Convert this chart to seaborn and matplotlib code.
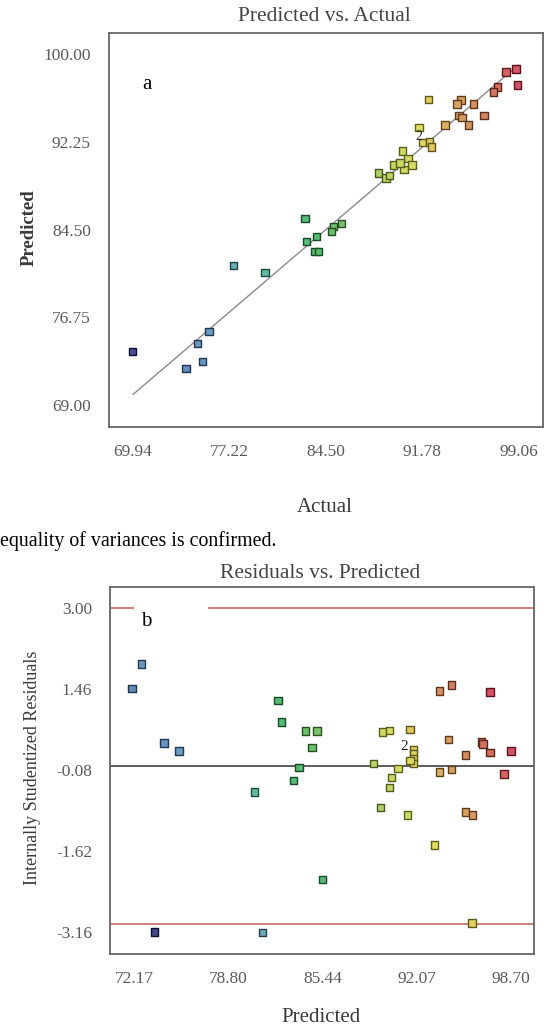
import numpy as np
import pandas as pd
import matplotlib
matplotlib.use("Agg")
import matplotlib.pyplot as plt
import seaborn as sns
from matplotlib.colors import LinearSegmentedColormap, Normalize
from matplotlib.patches import Rectangle

# ---------------- data ----------------
# (a) Predicted vs. Actual
actual_a = [98.88, 98.10, 98.96, 97.46, 97.15, 92.24, 94.70, 94.40, 95.65, 93.50,
            94.55, 94.80, 95.30, 96.45, 91.55, 91.80, 92.35, 92.50, 90.30, 90.70,
            91.00, 90.40, 89.60, 90.10, 88.50, 89.05, 89.30, 82.92, 85.70, 85.06,
            84.94, 83.81, 83.05, 83.68, 83.93, 77.51, 79.90, 69.91, 75.67, 74.82,
            75.20, 73.94]
predicted_a = [98.70, 98.43, 97.29, 97.10, 96.67, 96.02, 95.96, 95.60, 95.60, 93.75,
               94.60, 94.40, 93.75, 94.60, 93.50, 92.20, 92.25, 91.80, 91.45, 90.80,
               90.20, 89.80, 90.20, 90.40, 89.50, 89.06, 89.30, 85.50, 85.06, 84.76,
               84.32, 83.88, 83.44, 82.55, 82.55, 81.31, 80.73, 73.71, 75.48, 74.45,
               72.83, 72.24]
xticks_a = [69.94, 77.22, 84.50, 91.78, 99.06]
yticks_a = [69.00, 76.75, 84.50, 92.25, 100.00]
fit_line = [69.94, 99.06]

# (b) Residuals vs. Predicted
predicted_b = [72.66, 71.98, 74.23, 75.29, 82.28, 82.53, 84.24, 85.03, 84.68, 83.76,
               83.39, 89.03, 89.65, 90.13, 91.60, 91.85, 91.85, 91.85, 91.85, 91.60,
               93.69, 94.55, 97.25, 94.30, 95.53, 96.64, 96.76, 97.25, 98.72, 98.23,
               90.75, 93.69, 94.55, 90.30, 90.13, 89.50, 80.61, 91.41, 95.53, 96.02,
               93.33, 85.42, 73.57, 81.18, 95.98]
residual_b = [1.94, 1.47, 0.44, 0.29, 1.25, 0.84, 0.67, 0.67, 0.35, -0.03,
              -0.27, 0.05, 0.65, 0.68, 0.70, 0.32, 0.23, 0.14, 0.05, 0.11,
              1.43, 1.54, 1.41, 0.51, 0.21, 0.46, 0.42, 0.26, 0.29, -0.15,
              -0.04, -0.11, -0.06, -0.22, -0.41, -0.78, -0.49, -0.93, -0.87, -0.93,
              -1.50, -2.15, -3.15, -3.16, -2.98]
xticks_b = [72.17, 78.80, 85.44, 92.07, 98.70]
yticks_b = [-3.16, -1.62, -0.08, 1.46, 3.00]
limits_b = [-3.0, 3.0]
resid_scale = 1.3  # residual -> response units, used only for colouring

# ---------------- style ----------------
sns.set_theme(style="white")
plt.rcParams["font.family"] = ["Liberation Serif", "DejaVu Serif"]

W, H = 545, 1034
fig = plt.figure(figsize=(W / 100, H / 100), dpi=100)


def rect(l, t, r, b):
    return [l / W, 1 - b / H, (r - l) / W, (b - t) / H]


ax1 = fig.add_axes(rect(109, 33, 542.5, 427))
ax2 = fig.add_axes(rect(110.2, 586.7, 534.2, 954))

stops = [(69.5, "#1c1a70"), (73.0, "#3a64a8"), (76.0, "#4a86b0"), (79.0, "#3aaa98"),
         (84.0, "#2ea84a"), (89.0, "#a8c840"), (91.5, "#d8d838"), (94.0, "#d09040"),
         (96.0, "#c87038"), (99.0, "#c82840")]
vmin, vmax = 69.5, 99.0
cmap = LinearSegmentedColormap.from_list(
    "de", [((v - vmin) / (vmax - vmin), c) for v, c in stops])
norm = Normalize(vmin, vmax)


def restyle(ax):
    coll = ax.collections[-1]
    fc = np.array(coll.get_facecolors())
    face = fc.copy()
    face[:, :3] = fc[:, :3] * 0.8 + 0.2
    edge = fc.copy()
    edge[:, :3] = fc[:, :3] * 0.45
    coll.set_facecolors(face)
    coll.set_edgecolors(edge)
    coll.set_linewidths(1.0)


tick_col = "#5a5a5a"
for ax in (ax1, ax2):
    for s in ax.spines.values():
        s.set_color("#666666")
        s.set_linewidth(1.3)
    ax.tick_params(axis="both", direction="out", color=tick_col, labelcolor=tick_col,
                   width=1.2, labelsize=12.5)
    ax.tick_params(axis="x", length=8, pad=4)
    ax.tick_params(axis="y", length=10, pad=3)
    ax.set_facecolor("white")

# ---------- (a) ----------
dfa = pd.DataFrame({"Actual": actual_a, "Predicted": predicted_a})
ax1.plot(fit_line, fit_line, color="#8a8a8a", lw=1.0, zorder=1)
sns.scatterplot(data=dfa, x="Actual", y="Predicted", hue="Actual", palette=cmap,
                hue_norm=norm, marker="s", s=28, legend=False, ax=ax1, zorder=3)
restyle(ax1)
ax1.set_xlim(68.12, 100.87)
ax1.set_ylim(67.06, 101.88)
ax1.set_xticks(xticks_a)
ax1.set_xticklabels([f"{v:.2f}" for v in xticks_a])
ax1.set_yticks(yticks_a)
ax1.set_yticklabels([f"{v:.2f}" for v in yticks_a])
ax1.set_xlabel("")
ax1.set_ylabel("")
ax1.text(0.087, 0.87, "a", transform=ax1.transAxes, fontsize=15, color="black",
         ha="center", va="center")
ax1.text(91.5, 92.75, "2", fontsize=10, color="#222222", ha="center", va="center", zorder=4)

# ---------- (b) ----------
dfb = pd.DataFrame({"Predicted": predicted_b, "Residual": residual_b})
dfb["Response"] = dfb["Predicted"] + resid_scale * dfb["Residual"]
ax2.axhline(0, color="#404040", lw=1.2, zorder=1)
for lim in limits_b:
    ax2.axhline(lim, color="#c46a6a", lw=1.2, zorder=1)
sns.scatterplot(data=dfb, x="Predicted", y="Residual", hue="Response", palette=cmap,
                hue_norm=norm, marker="s", s=28, legend=False, ax=ax2, zorder=3)
restyle(ax2)
ax2.add_patch(Rectangle((0.056, 0.86), 0.175, 0.12, transform=ax2.transAxes,
                        facecolor="white", edgecolor="none", zorder=2))
ax2.text(0.085, 0.905, "b", transform=ax2.transAxes, fontsize=15, color="black",
         ha="center", va="center", zorder=4)
ax2.text(91.2, 0.38, "2", fontsize=11, color="#222222", ha="center", va="center", zorder=4)
ax2.set_xlim(70.43, 100.37)
ax2.set_ylim(-3.57, 3.41)
ax2.set_xticks(xticks_b)
ax2.set_xticklabels([f"{v:.2f}" for v in xticks_b])
ax2.set_yticks(yticks_b)
ax2.set_yticklabels([f"{v:.2f}" for v in yticks_b])
ax2.set_xlabel("")
ax2.set_ylabel("")

# ---------- figure texts ----------
def ftext(x, y, s, **kw):
    fig.text(x / W, 1 - y / H, s, ha="center", va="center", **kw)


ftext(324, 16.5, "Predicted vs. Actual", fontsize=15.5, color="#444444")
ftext(325, 507, "Actual", fontsize=15, color="#3a3a3a")
ftext(29.5, 228, "Predicted", fontsize=13.5, color="#3a3a3a", rotation=90, fontweight="bold")
fig.text(0.0, 1 - 541 / H, "equality of variances is confirmed.", ha="left", va="center",
         fontsize=14.3, color="black")
ftext(320, 573, "Residuals vs. Predicted", fontsize=15.5, color="#444444")
ftext(321, 1018, "Predicted", fontsize=15, color="#3a3a3a")
ftext(33, 768, "Internally Studentized Residuals", fontsize=13, color="#3a3a3a", rotation=90)

fig.savefig("out.png", dpi=100, facecolor="white")
